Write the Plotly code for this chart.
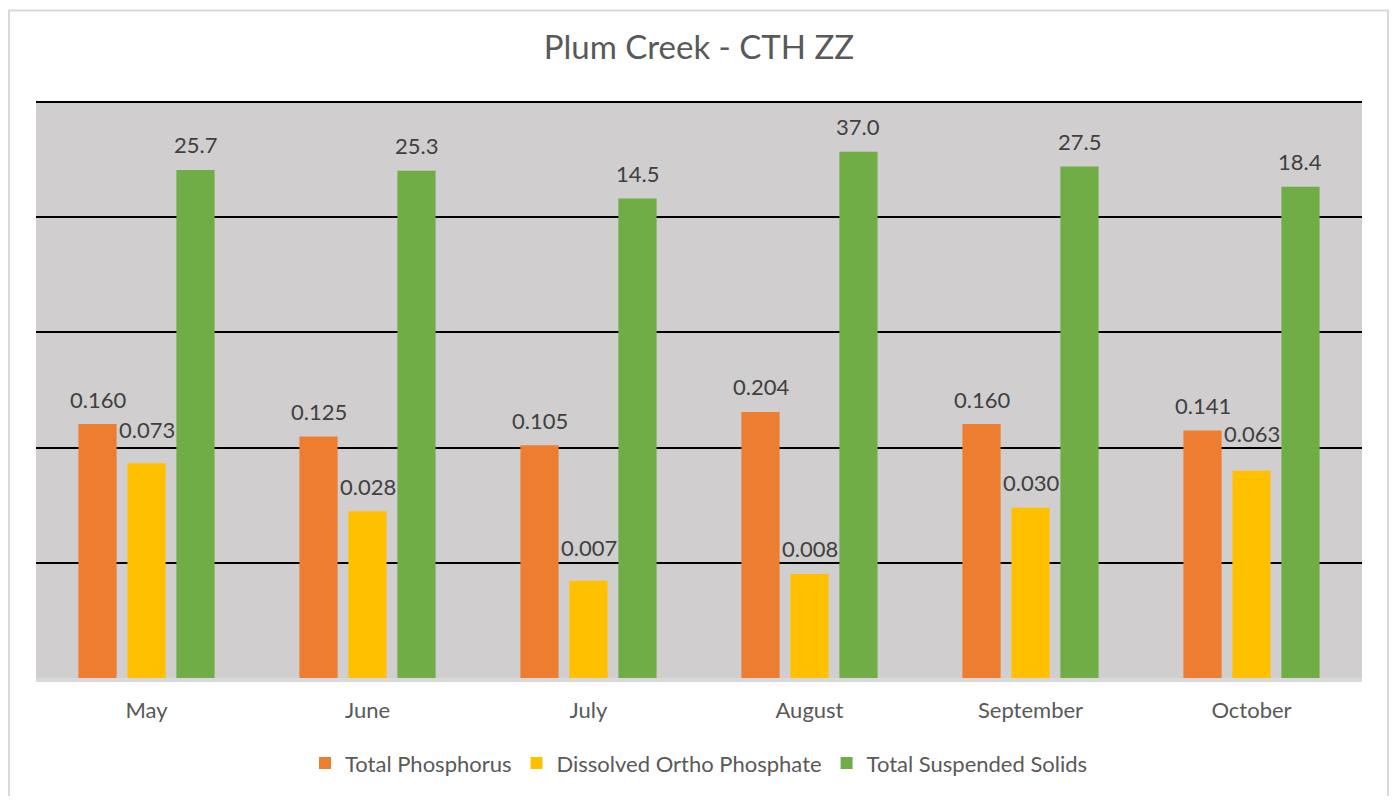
import math
import plotly.graph_objects as go

months = ["May", "June", "July", "August", "September", "October"]
total_phosphorus = [0.160, 0.125, 0.105, 0.204, 0.160, 0.141]
dissolved_ortho = [0.073, 0.028, 0.007, 0.008, 0.030, 0.063]
total_suspended = [25.7, 25.3, 14.5, 37.0, 27.5, 18.4]

series = [
    ("Total Phosphorus", total_phosphorus, "#ED7D31", "{:.3f}"),
    ("Dissolved Ortho Phosphate", dissolved_ortho, "#FFC000", "{:.3f}"),
    ("Total Suspended Solids", total_suspended, "#70AD47", "{:.1f}"),
]
# extra lift (px) for labels nudged to avoid overlap, as in the original
label_lift = {
    "Dissolved Ortho Phosphate": [9, 0, 8, 0, 0, 12],
}

FONT = "Lato, 'Open Sans', sans-serif"

W, H = 1381, 788
L, R, T, B = 28, 27, 94, 109
PW, PH = W - L - R, H - T - B
BARGAP = 0.335
SLOT = PW / len(months) * (1 - BARGAP) / len(series)

fig = go.Figure()
annotations = []
for si, (name, vals, color, fmt) in enumerate(series):
    fig.add_trace(go.Bar(
        x=months, y=vals, name=name,
        marker=dict(color=color, line=dict(width=0)),
        cliponaxis=False,
    ))
    lifts = label_lift.get(name, [0] * len(vals))
    for m, v, lf in zip(months, vals, lifts):
        annotations.append(dict(
            x=m, y=math.log10(v), xref="x", yref="y",
            text=fmt.format(v), showarrow=False,
            xshift=(si - 1) * SLOT, yshift=25 + lf, yanchor="middle",
            font=dict(family=FONT, size=22, color="#404040"),
        ))

fig.update_layout(
    width=W, height=H,
    paper_bgcolor="white",
    plot_bgcolor="#D0CECE",
    margin=dict(l=L, r=R, t=T, b=B),
    barmode="group",
    bargap=BARGAP,
    bargroupgap=0.22,
    title=dict(text="Plum Creek - CTH ZZ", x=(L + PW / 2) / W, xanchor="center",
               y=1 - 39 / H, yanchor="middle",
               font=dict(family=FONT, size=33, color="#595959")),
    font=dict(family=FONT, color="#595959"),
    legend=dict(orientation="h", x=0.5, xanchor="center", y=-0.148, yanchor="middle",
                font=dict(family=FONT, size=22, color="#595959")),
    xaxis=dict(showgrid=False, showline=True, linecolor="#D9D9D9", linewidth=4,
               tickfont=dict(family=FONT, size=22, color="#595959"),
               ticks="", ticklabelstandoff=10),
    yaxis=dict(type="log", range=[-3, 2], tickvals=[0.01, 0.1, 1, 10],
               showticklabels=False, showgrid=True, gridcolor="#000000", gridwidth=2,
               zeroline=False, showline=False, ticks=""),
    annotations=annotations,
    shapes=[
        dict(type="rect", xref="paper", yref="paper",
             x0=(1 - L) / PW, x1=(1380 - L) / PW,
             y0=(PH + T - 820) / PH, y1=(PH + T - 1) / PH,
             line=dict(color="#D9D9D9", width=2), fillcolor="rgba(0,0,0,0)",
             layer="below"),
        dict(type="line", xref="paper", yref="paper", x0=0, x1=1, y0=1, y1=1,
             line=dict(color="#000000", width=2)),
    ],
)

fig.write_html("out.html")
